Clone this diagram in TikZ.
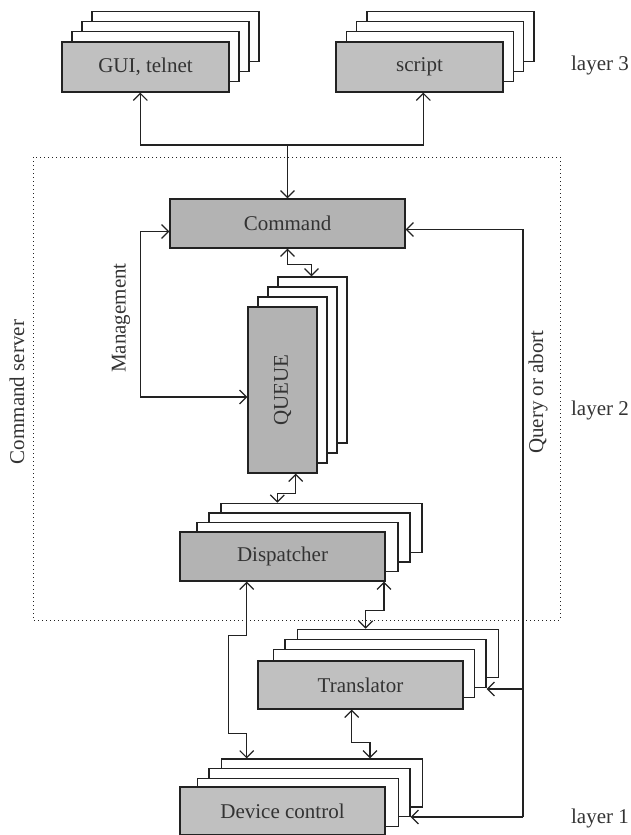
\documentclass[tikz,border=0pt]{standalone}
\usepackage{fontspec}
\setmainfont{Liberation Serif}
\usetikzlibrary{arrows.meta}
\definecolor{txt}{HTML}{333333}
\definecolor{lightg}{HTML}{C0C0C0}
\definecolor{darkg}{HTML}{B3B3B3}
\definecolor{ln}{HTML}{222222}
\begin{document}
\begin{tikzpicture}[x=1pt,y=-1pt,
  base/.style={draw=ln, line width=1.2pt, inner sep=0pt, text=txt, font=\fontsize{21}{25}\selectfont},
  plate/.style={base, fill=white},
  lbox/.style={base, fill=lightg},
  dbox/.style={base, fill=darkg},
  wide/.style={minimum width=201pt, minimum height=#1},
  arr/.style={draw=ln, line width=1.2pt, -{Straight Barb[length=7pt,width=14pt]}},
  arrtwo/.style={draw=ln, line width=1.2pt, {Straight Barb[length=7pt,width=14pt]}-{Straight Barb[length=7pt,width=14pt]}},
  lab/.style={text=txt, inner sep=0pt, font=\fontsize{21}{25}\selectfont},
  frame/.style={draw=ln, line width=1pt, dash pattern=on 1pt off 3pt}
]
\useasboundingbox (0,0) rectangle (630,835);

% dotted command server frame
\draw[frame] (33,157) rectangle (560,620);

% GUI stack
\begin{scope}[every node/.append style={minimum width=167pt, minimum height=50pt}]
\node[plate] (gui3) at (175.5,36.1) {};
\node[plate] (gui2) at (165.5,46.4) {};
\node[plate] (gui1) at (155.5,56.7) {};
\node[lbox]  (gui)  at (145.5,67) {GUI, telnet};
\node[plate] (scr3) at (450.4,36.1) {};
\node[plate] (scr2) at (440.1,46.4) {};
\node[plate] (scr1) at (429.8,56.7) {};
\node[lbox]  (scr)  at (419.5,67) {script};
\end{scope}

% Command
\node[dbox, minimum width=235pt, minimum height=49pt] (cmd) at (287.5,223.5) {Command};

% QUEUE stack
\begin{scope}[every node/.append style={minimum width=69pt, minimum height=166pt}]
\node[plate] (q3) at (312.5,360) {};
\node[plate] (q2) at (302.5,370) {};
\node[plate] (q1) at (292.5,380) {};
\node[dbox]  (queue) at (282.5,390) {};
\end{scope}
\node[lab, rotate=90] (queuelab) at (queue.center) {QUEUE};

% Dispatcher stack
\node[plate, wide=49pt] (d3) at (321.5,527.8) {};
\node[plate, wide=49pt] (d2) at (309.5,537.5) {};
\node[plate, wide=49pt] (d1) at (297.5,547) {};
\node[dbox, minimum width=205pt, minimum height=49pt] (disp) at (282.5,556.5) {Dispatcher};

% Translator stack
\node[plate, wide=48pt] (t3) at (397.8,653.3) {};
\node[plate, wide=48pt] (t2) at (385.5,663.3) {};
\node[plate, wide=48pt] (t1) at (373.8,673.3) {};
\node[lbox, minimum width=205pt, minimum height=48pt] (tr) at (360.5,685) {Translator};

% Device control stack
\node[plate, wide=48pt] (c3) at (321.8,783) {};
\node[plate, wide=48pt] (c2) at (309.5,792.7) {};
\node[plate, wide=48pt] (c1) at (298.2,802.3) {};
\node[lbox, minimum width=205pt, minimum height=48pt] (dev) at (282.5,811) {Device control};

% labels
\node[lab] (l3) at (600,65) {layer 3};
\node[lab] (l2) at (600,410) {layer 2};
\node[lab] (l1) at (600,818) {layer 1};
\node[lab, rotate=90] (cs) at (17,392) {Command server};
\node[lab, rotate=90] (mg) at (121,318) {Management};
\node[lab, rotate=90] (qa) at (538,392) {Query or abort};

% layer 3 <-> command
\coordinate (J) at (287.5,145);
\draw[arr] (J) -| ([xshift=-5.2pt]gui.south);
\draw[arr] (J) -| ([xshift=3.8pt]scr.south);
\draw[arr] (J) -- (cmd.north);

% management
\coordinate (M1) at (140.7,231.5);
\coordinate (M2) at (140.7,397);
\draw[arrtwo] (cmd.west |- M1) -- (M1) -- (M2) -- (queue.west |- M2);

% command <-> queue
\draw[arrtwo] (cmd.south) -- ++(0,16) -| ([xshift=-1pt]q3.north);

% queue <-> dispatcher
\draw[arrtwo] ([xshift=13.2pt]queue.south) -- ++(0,20) -| ([xshift=-44.2pt]d3.north);

% dispatcher <-> translator
\draw[arrtwo] ([xshift=101.5pt]disp.south) -- ++(0,29) -| ([xshift=-32.1pt]t3.north);

% dispatcher <-> device control
\draw[arrtwo] ([xshift=-35.8pt]disp.south) -- ++(0,54) -- ++(-18.5,0) -- ++(0,98) -- ++(18.5,0) -- ([xshift=-75.1pt]c3.north);

% translator <-> device control
\draw[arrtwo] ([xshift=-8.8pt]tr.south) -- ++(0,32.7) -| ([xshift=48.2pt]c3.north);

% query or abort
\coordinate (Q1) at (523,229.5);
\coordinate (QT) at (523,689);
\coordinate (QD) at (523,817);
\draw[arr] (QD) -- (Q1) -- (cmd.east |- Q1);
\draw[arr] (QT) -- (t2.east |- QT);
\draw[arr] (QD) -- (c2.east |- QD);
\end{tikzpicture}
\end{document}
